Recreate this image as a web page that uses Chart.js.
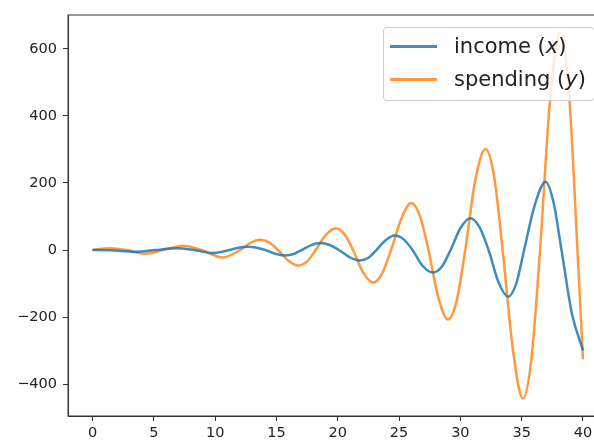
<!DOCTYPE html>
<html>
<head>
<meta charset="utf-8">
<script src="https://cdn.jsdelivr.net/npm/chart.js@4/dist/chart.umd.min.js"></script>
<style>
  html, body { margin: 0; padding: 0; background: #fff; overflow: hidden; }
  #wrap { position: relative; width: 594px; height: 444px; overflow: hidden; }
  #chart { position: absolute; left: 0; top: 0; }
  #legend {
    position: absolute; left: 383px; top: 27px; width: 210px; height: 72px;
    border: 1px solid #d0d0d0; border-radius: 4px; background: rgba(255,255,255,0.8);
    font-family: "DejaVu Sans", sans-serif; font-size: 21px; color: #222;
  }
  .row { position: absolute; left: 0; height: 26px; }
  .swatch { position: absolute; left: 6px; width: 47px; height: 2.5px; top: 12px; }
  .label { position: absolute; left: 70px; top: 0; white-space: nowrap; line-height: 26px; }
</style>
</head>
<body>
<div id="wrap">
  <canvas id="chart" width="620" height="444"></canvas>
  <div id="legend"></div>
</div>
<script>
// values (extremes, zero crossings and points between them)
const incomeT = [0, 1.5, 3.5, 5.1, 6.9, 8.25, 9.8, 11.15, 11.9, 12.7, 13.4, 14.1, 14.9, 15.7, 16.4, 17.05,
  17.8, 18.6, 19.35, 20.1, 20.95, 21.8, 22.5, 23.15, 23.9, 24.65, 25.4, 26.1, 26.9, 27.75, 28.5, 29.2,
  30.0, 30.8, 31.55, 32.3, 33.1, 33.9, 34.55, 35.2, 36.05, 36.95, 37.6, 38.25, 39.1, 40];
const income = [0, -1, -5, 0, 5, 0, -9, 0, 7, 10, 7, 0, -11, -16, -12, 0,
  14, 21, 15, 0, -21, -31, -23, 0, 29, 43, 31, 0, -46, -67, -49, 0,
  65, 95, 69, 0, -95, -139, -101, 0, 132, 204, 142, 0, -190, -299];

const spendingT = [0, 1.4, 2.75, 4.3, 5.75, 7.4, 8.9, 10.6, 12.05, 12.85, 13.7, 14.4, 15.13, 15.95, 16.8, 17.5,
  18.2, 19.0, 19.85, 20.55, 21.25, 22.05, 22.9, 23.6, 24.35, 25.2, 26.0, 26.7, 27.4, 28.2, 29.0, 29.7,
  30.4, 31.2, 32.05, 32.75, 33.45, 34.3, 35.1, 35.8, 36.5, 37.3, 38.15, 38.85, 39.55, 40];
const spending = [0, 5, 0, -11, 0, 13, 0, -22, 0, 21, 31, 23, 0, -31, -46, -34,
  0, 44, 65, 47, 0, -66, -97, -71, 0, 95, 140, 102, 0, -141, -207, -151,
  0, 205, 301, 220, 0, -301, -443, -323, 0, 441, 648, 473, 0, -326];

const xTicks = [0, 5, 10, 15, 20, 25, 30, 35, 40];
const yTicks = [-400, -200, 0, 200, 400, 600];

const seriesNames = ['income', 'spending'];
const seriesVars = ['x', 'y'];
const seriesColors = ['rgba(31,119,180,0.85)', 'rgba(255,127,14,0.8)'];

const toPoints = (ts, vs) => ts.map((t, i) => ({ x: t, y: vs[i] }));
const fmt = v => (v < 0 ? '\u2212' + Math.abs(v) : String(v));

const axisColor = '#333';
const tickFont = { family: 'DejaVu Sans', size: 14.5 };

// top / right spine
const frame = {
  id: 'frame',
  afterDraw(chart) {
    const a = chart.chartArea, c = chart.ctx;
    c.save();
    c.strokeStyle = axisColor;
    c.lineWidth = 1;
    c.strokeRect(a.left, a.top, a.right - a.left, a.bottom - a.top);
    c.restore();
  }
};

const chart = new Chart(document.getElementById('chart'), {
  type: 'scatter',
  data: {
    datasets: [
      { label: seriesNames[0], data: toPoints(incomeT, income), borderColor: seriesColors[0] },
      { label: seriesNames[1], data: toPoints(spendingT, spending), borderColor: seriesColors[1] }
    ]
  },
  options: {
    responsive: false,
    animation: false,
    showLine: true,
    layout: { padding: { left: 0, right: 12.5, top: 15, bottom: 0 } },
    elements: {
      point: { radius: 0, hoverRadius: 0 },
      line: { borderWidth: 2.5, cubicInterpolationMode: 'monotone', fill: false }
    },
    plugins: { legend: { display: false }, tooltip: { enabled: false } },
    scales: {
      x: {
        type: 'linear', min: -2, max: 42,
        afterBuildTicks: s => { s.ticks = xTicks.map(v => ({ value: v })); },
        afterFit: s => { s.height = 28; },
        grid: { drawOnChartArea: false, drawTicks: true, tickLength: 5, tickColor: axisColor },
        border: { display: true, color: axisColor, width: 1 },
        ticks: { font: tickFont, color: '#222', padding: 4, maxRotation: 0, callback: fmt }
      },
      y: {
        type: 'linear', min: -495, max: 701,
        afterBuildTicks: s => { s.ticks = yTicks.map(v => ({ value: v })); },
        afterFit: s => { s.width = 68; },
        grid: { drawOnChartArea: false, drawTicks: true, tickLength: 5, tickColor: axisColor },
        border: { display: true, color: axisColor, width: 1 },
        ticks: { font: tickFont, color: '#222', padding: 6, callback: fmt }
      }
    }
  },
  plugins: [frame]
});

// legend (html, drawn over the axes like matplotlib's)
const legend = document.getElementById('legend');
seriesNames.forEach((name, i) => {
  const row = document.createElement('div');
  row.className = 'row';
  row.style.top = (5 + i * 33) + 'px';
  row.innerHTML = `<div class="swatch" style="background:${seriesColors[i]}"></div>` +
    `<span class="label">${name} (<i>${seriesVars[i]}</i>)</span>`;
  legend.appendChild(row);
});
</script>
</body>
</html>
